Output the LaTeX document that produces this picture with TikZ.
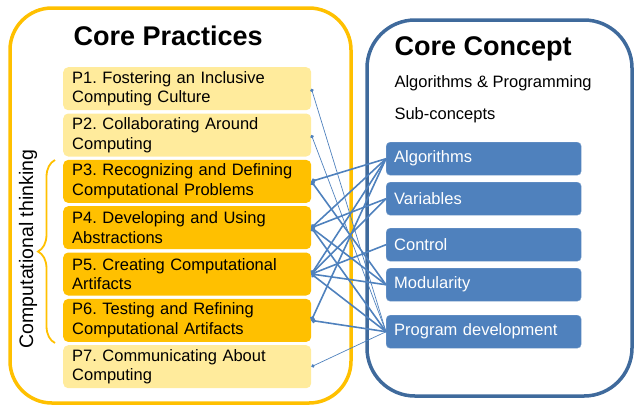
\documentclass[tikz,border=0pt]{standalone}
\usepackage{fontspec}
\setmainfont{Liberation Sans}
\usepackage{tikz}
\usetikzlibrary{arrows.meta,decorations.pathreplacing}
\definecolor{practgold}{HTML}{FFC000}
\definecolor{practlight}{HTML}{FFEB9C}
\definecolor{conceptframe}{HTML}{3F6A9C}
\definecolor{conceptblue}{HTML}{4F81BD}
\frenchspacing

\begin{document}
\begin{tikzpicture}[x=1pt, y=-1pt,
  practice/.style={rounded corners=5pt, anchor=north west, minimum width=248pt,
    minimum height=43pt, text width=230pt, inner xsep=9pt, align=left,
    font=\fontsize{16.5}{19.5}\selectfont},
  subconcept/.style={fill=conceptblue, draw=conceptblue!75!white, rounded corners=4pt,
    anchor=north west, minimum width=195pt, minimum height=33pt, text width=179pt,
    inner xsep=8pt, align=left, text=white, font=\fontsize{16.5}{19.5}\selectfont},
  link/.style={conceptblue, line width=1.6pt, {Circle[length=4.5pt]}-},
  thinlink/.style={conceptblue, line width=0.7pt, {Circle[length=3.5pt]}-}]
  \useasboundingbox (0,0) rectangle (636,408);
  % the two frames
  \draw[practgold, line width=3.5pt, rounded corners=42pt] (10,8) rectangle (351,403);
  \draw[conceptframe, line width=3.5pt, rounded corners=48pt] (367,20) rectangle (632,396);
  \node[anchor=base west, font=\fontsize{27}{30}\selectfont\bfseries] (practtitle) at (70,45) {Core Practices};
  \node[anchor=base west, font=\fontsize{27}{30}\selectfont\bfseries] (concepttitle) at (391,55) {Core Concept};
  \node[anchor=base west, font=\fontsize{16.5}{19.5}\selectfont] (area) at (391,87) {Algorithms \& Programming};
  \node[anchor=base west, font=\fontsize{16.5}{19.5}\selectfont] (sub) at (391,119) {Sub-concepts};

  % practices
  \node[practice, fill=practlight] (p1) at (63,67) {P1. Fostering an Inclusive\\Computing Culture};
  \node[practice, fill=practlight] (p2) at (63,113.3) {P2. Collaborating Around\\Computing};
  \node[practice, fill=practgold] (p3) at (63,159.7) {P3. Recognizing and Defining\\Computational Problems};
  \node[practice, fill=practgold] (p4) at (63,206) {P4. Developing and Using\\Abstractions};
  \node[practice, fill=practgold] (p5) at (63,252.3) {P5. Creating Computational\\Artifacts};
  \node[practice, fill=practgold] (p6) at (63,298.7) {P6. Testing and Refining\\Computational Artifacts};
  \node[practice, fill=practlight] (p7) at (63,345) {P7. Communicating About\\Computing};

  % P3--P6 grouped by the brace
  \draw[practgold, line width=1.8pt, decorate, decoration={brace, amplitude=17pt}]
    (55,343) -- (55,160);
  \node[rotate=90, font=\fontsize{19.5}{22}\selectfont] (ct) at (28,249) {Computational thinking};

  % sub-concepts
  \node[subconcept] (alg) at (386,142) {Algorithms};
  \node[subconcept] (var) at (386,182) {Variables};
  \node[subconcept] (ctrl) at (386,228) {Control};
  \node[subconcept] (mod) at (386,268) {Modularity};
  \node[subconcept] (prog) at (386,315) {Program development};

  \foreach \a/\b in {p3/alg, p3/mod, p4/alg, p4/var, p4/mod, p4/prog,
                     p5/alg, p5/var, p5/ctrl, p5/mod, p5/prog, p6/alg, p6/prog}
    \draw[link] (\a.east) -- (\b.west);
  \foreach \a in {p1, p2, p7}
    \draw[thinlink] (\a.east) -- (prog.west);
\end{tikzpicture}
\end{document}
